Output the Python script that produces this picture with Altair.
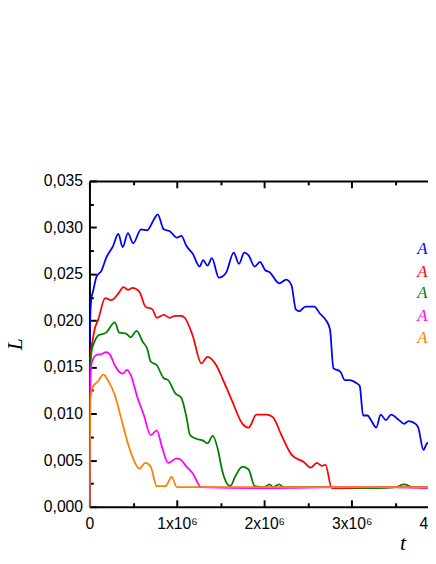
import altair as alt
import pandas as pd

# ---------------- data (t in units of 10^6) ----------------
series_names = ["A1", "A2", "A3", "A4", "A5"]
series_colors = ["#0000ff", "#ff0000", "#008000", "#ff00ff", "#ff8000"]
legend_labels = ["A = 0.9", "A = 0.7", "A = 0.5", "A = 0.3", "A = 0.1"]
legend_L = [0.0277, 0.0252, 0.0230, 0.0205, 0.0181]
legend_t = 3.75

blue_t = [0, 0.005, 0.02, 0.045, 0.08, 0.14, 0.19, 0.27, 0.33, 0.38, 0.44, 0.50, 0.59, 0.66,
          0.74, 0.78, 0.85, 0.92, 1.00, 1.05, 1.11, 1.18, 1.26, 1.30, 1.35, 1.40, 1.48, 1.56,
          1.65, 1.71, 1.77, 1.82, 1.89, 1.95, 2.01, 2.06, 2.17, 2.25, 2.31, 2.36, 2.40, 2.47,
          2.57, 2.64, 2.70, 2.75, 2.79, 2.87, 2.92, 2.98, 3.05, 3.09, 3.13, 3.18, 3.22, 3.28,
          3.33, 3.39, 3.45, 3.54, 3.60, 3.65, 3.73, 3.76, 3.82, 3.86, 3.95]
blue_L = [0, 0.0191, 0.0222, 0.0233, 0.0247, 0.0254, 0.0267, 0.0280, 0.0293, 0.0279, 0.0294,
          0.0283, 0.0298, 0.0297, 0.0309, 0.0314, 0.0298, 0.0296, 0.0289, 0.0291, 0.0280,
          0.0272, 0.0258, 0.0265, 0.0259, 0.0267, 0.0246, 0.0251, 0.0273, 0.0261, 0.0273,
          0.0270, 0.0258, 0.0263, 0.0254, 0.0252, 0.0240, 0.0244, 0.0238, 0.0212, 0.0210,
          0.0215, 0.0215, 0.0207, 0.0201, 0.0191, 0.0149, 0.0145, 0.0136, 0.0136, 0.0133,
          0.0130, 0.0098, 0.0098, 0.0093, 0.0085, 0.0099, 0.0093, 0.0099, 0.0093, 0.0089,
          0.0092, 0.0089, 0.0085, 0.0061, 0.0068, 0.0070]

red_t = [0, 0.01, 0.03, 0.06, 0.10, 0.18, 0.25, 0.33, 0.39, 0.44, 0.49, 0.57, 0.64, 0.72,
         0.77, 0.85, 0.92, 0.98, 1.05, 1.09, 1.18, 1.28, 1.35, 1.45, 1.52, 1.63, 1.75, 1.82,
         1.91, 2.03, 2.10, 2.19, 2.31, 2.45, 2.53, 2.60, 2.66, 2.70, 2.77, 3.0, 3.5, 4.0, 4.5]
red_L = [0, 0.0160, 0.0175, 0.0191, 0.0201, 0.0224, 0.0222, 0.0229, 0.0236, 0.0233, 0.0235,
         0.0231, 0.0215, 0.0212, 0.0203, 0.0206, 0.0203, 0.0205, 0.0205, 0.0203, 0.0184,
         0.0154, 0.0161, 0.0152, 0.0138, 0.0114, 0.0089, 0.0085, 0.0099, 0.0099, 0.0096,
         0.0078, 0.0056, 0.0048, 0.0042, 0.0047, 0.0044, 0.0045, 0.0020, 0.0020, 0.0021,
         0.0020, 0.0020]

green_t = [0, 0.01, 0.03, 0.04, 0.10, 0.19, 0.29, 0.34, 0.42, 0.47, 0.54, 0.61, 0.66, 0.70,
           0.77, 0.85, 0.90, 0.98, 1.05, 1.11, 1.15, 1.22, 1.30, 1.35, 1.41, 1.47, 1.52, 1.61,
           1.67, 1.75, 1.82, 1.89, 2.00, 2.06, 2.10, 2.17, 2.22, 2.80, 3.30, 3.50, 3.60, 3.70,
           4.50]
green_L = [0, 0.0150, 0.0170, 0.0173, 0.0184, 0.0187, 0.0198, 0.0187, 0.0186, 0.0182, 0.0189,
           0.0177, 0.0170, 0.0156, 0.0152, 0.0138, 0.0136, 0.0122, 0.0117, 0.0096, 0.0077,
           0.0073, 0.0071, 0.0068, 0.0076, 0.0061, 0.0038, 0.0022, 0.0033, 0.0043, 0.0040,
           0.0022, 0.0021, 0.0024, 0.0021, 0.0024, 0.0021, 0.0021, 0.0020, 0.0021, 0.0024,
           0.0021, 0.0021]

magenta_t = [0, 0.01, 0.03, 0.08, 0.14, 0.19, 0.23, 0.29, 0.34, 0.38, 0.43, 0.47, 0.55, 0.62,
             0.70, 0.77, 0.83, 0.90, 1.00, 1.05, 1.11, 1.18, 1.28, 2.0, 3.0, 4.5]
magenta_L = [0, 0.0140, 0.0156, 0.0163, 0.0164, 0.0166, 0.0164, 0.0152, 0.0145, 0.0143,
             0.0147, 0.0142, 0.0117, 0.0099, 0.0077, 0.0082, 0.0064, 0.0047, 0.0052, 0.0050,
             0.0043, 0.0036, 0.0021, 0.0020, 0.0021, 0.0020]

orange_t = [0, 0.01, 0.04, 0.10, 0.16, 0.21, 0.29, 0.36, 0.44, 0.49, 0.57, 0.64, 0.70, 0.77,
            0.87, 0.94, 1.00, 2.0, 3.0, 4.5]
orange_L = [0, 0.0115, 0.0129, 0.0135, 0.0142, 0.0136, 0.0120, 0.0096, 0.0068, 0.0054,
            0.0041, 0.0047, 0.0043, 0.0022, 0.0022, 0.0032, 0.0021, 0.0021, 0.0021, 0.0021]

x_major = [0, 1, 2, 3, 4]
x_minor = [0.5, 1.5, 2.5, 3.5, 4.5]
y_major = [0, 0.005, 0.010, 0.015, 0.020, 0.025, 0.030, 0.035]
y_minor = [0.0025, 0.0075, 0.0125, 0.0175, 0.0225, 0.0275, 0.0325]

# ---------------- build tables ----------------
rows = []
for name, ts, ls in zip(series_names,
                        [blue_t, red_t, green_t, magenta_t, orange_t],
                        [blue_L, red_L, green_L, magenta_L, orange_L]):
    for t, l in zip(ts, ls):
        rows.append({"series": name, "t": t, "L": l})
df = pd.DataFrame(rows)
df["order"] = range(len(df))

legend_df = pd.DataFrame({"series": series_names, "label": legend_labels,
                          "t": [legend_t] * len(series_names), "L": legend_L})
helper = pd.DataFrame({"t": [0.0], "L": [0.0]})

W, H = 345, 332          # visible plot area (the frame continues past the page edge)
XRANGE = 401             # pixel length of the full 0..4.5 x-range
xscale = alt.Scale(domain=[0, 4.5], range=[0, XRANGE], nice=False, zero=False)
yscale = alt.Scale(domain=[0, 0.035], nice=False, zero=False)
color = alt.Color("series:N", scale=alt.Scale(domain=series_names, range=series_colors),
                  legend=None)

x_main = alt.Axis(orient="bottom", values=x_major, grid=False, ticks=False, domain=True,
                  domainColor="black", domainWidth=2,
                  labelExpr="datum.value == 0 ? '0' : datum.value + 'x10\u2076'",
                  labelFont="Liberation Sans", labelFontSize=16, labelPadding=9,
                  labelFlush=False, labelOverlap=False, labelColor="black",
                  title="t", titleFont="Liberation Serif", titleFontStyle="italic",
                  titleFontWeight="normal", titleFontSize=22, titleColor="black",
                  titleX=319, titleY=44, titleAlign="center", titleBaseline="alphabetic")
y_main = alt.Axis(orient="left", values=y_major, grid=False, ticks=False, domain=True,
                  domainColor="black", domainWidth=2,
                  labelExpr="replace(format(datum.value, '.3f'), '.', ',')",
                  labelFont="Liberation Sans", labelFontSize=16, labelPadding=7,
                  labelFlush=False, labelOverlap=False, labelColor="black",
                  title="L", titleFont="Liberation Serif", titleFontStyle="italic",
                  titleFontWeight="normal", titleFontSize=22, titleColor="black",
                  titleAngle=270, titleX=-76, titleY=166, titleAlign="center",
                  titleBaseline="middle")

lines = alt.Chart(df).mark_line(strokeWidth=1.8, clip=True, interpolate="monotone").encode(
    x=alt.X("t:Q", scale=xscale, axis=x_main),
    y=alt.Y("L:Q", scale=yscale, axis=y_main),
    color=color,
    order="order:Q",
)

texts = alt.Chart(legend_df).mark_text(
    align="left", baseline="middle", font="Liberation Serif", fontStyle="italic",
    fontSize=17
).encode(
    x=alt.X("t:Q", scale=xscale, axis=None),
    y=alt.Y("L:Q", scale=yscale, axis=None),
    text="label:N",
    color=color,
)


def tick_axis(orient, offset, values, size, domain=False):
    return alt.Axis(orient=orient, offset=offset, values=values, tickSize=size,
                    tickWidth=2, tickColor="black", labels=False, domain=domain,
                    domainColor="black", domainWidth=2, grid=False, title=None)


def tick_layer(xaxis, yaxis):
    return alt.Chart(helper).mark_point(opacity=0).encode(
        x=alt.X("t:Q", scale=xscale, axis=xaxis),
        y=alt.Y("L:Q", scale=yscale, axis=yaxis),
    )


t1 = tick_layer(tick_axis("top", -H, x_major, 7), tick_axis("right", -W, y_major, 7))
t2 = tick_layer(tick_axis("top", -H, x_minor, 4), tick_axis("right", -W, y_minor, 4))
t3 = tick_layer(tick_axis("bottom", -H, x_major, 7, domain=True), None)
t4 = tick_layer(tick_axis("bottom", -H, x_minor, 4), None)

chart = alt.layer(lines, texts, t1, t2, t3, t4).resolve_axis(
    x="independent", y="independent"
).properties(
    width=W, height=H,
    autosize=alt.AutoSizeParams(type="none"),
    padding={"left": 83, "top": 171, "right": 0, "bottom": 45},
).configure_view(stroke=None)

chart.save("out.html", embed_options={"renderer": "svg", "actions": False})
